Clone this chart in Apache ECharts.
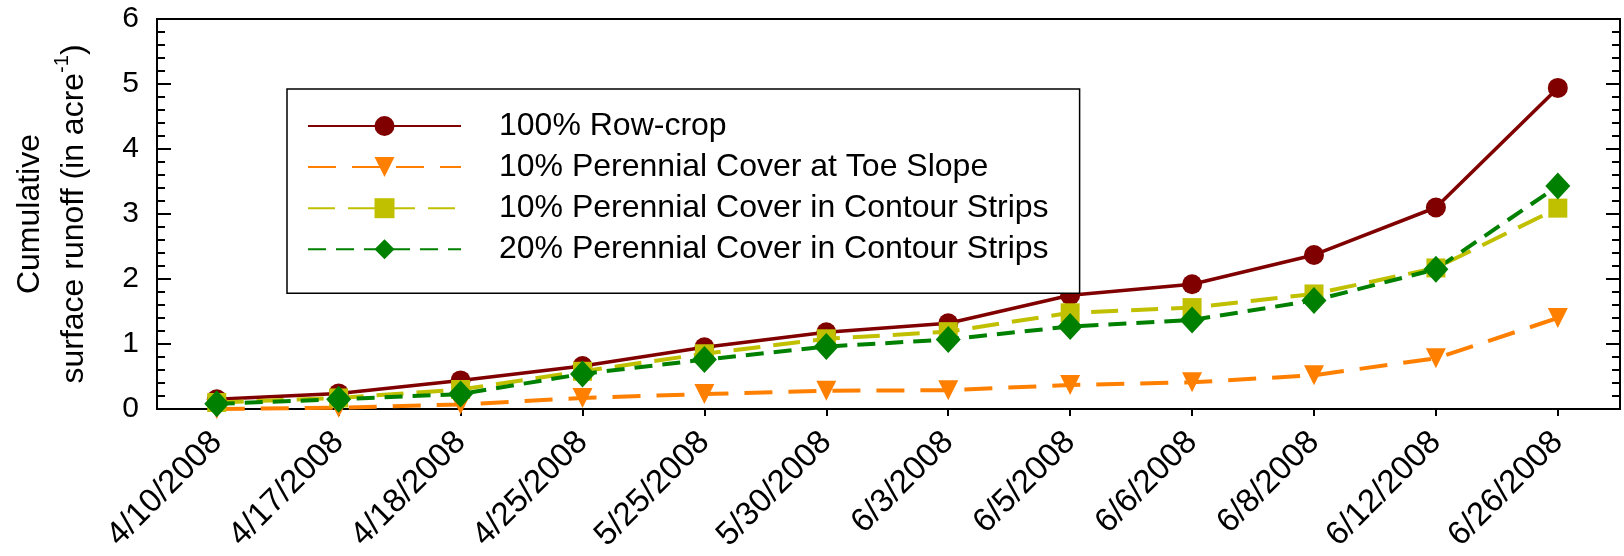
<!DOCTYPE html>
<html>
<head>
<meta charset="utf-8">
<script src="https://cdn.jsdelivr.net/npm/echarts@6/dist/echarts.min.js"></script>
<style>
  html, body { margin: 0; padding: 0; background: #fff; }
  #chart { width: 1624px; height: 556px; }
</style>
</head>
<body>
<div id="chart"></div>
<script>
// ---- data ----
const dates = ['4/10/2008','4/17/2008','4/18/2008','4/25/2008','5/25/2008','5/30/2008','6/3/2008','6/5/2008','6/6/2008','6/8/2008','6/12/2008','6/26/2008'];
const rowCrop   = [0.15, 0.24, 0.44, 0.66, 0.95, 1.18, 1.32, 1.75, 1.92, 2.37, 3.10, 4.94];
const toeSlope  = [0.00, 0.02, 0.07, 0.17, 0.23, 0.28, 0.29, 0.37, 0.41, 0.52, 0.78, 1.40];
const contour10 = [0.10, 0.17, 0.30, 0.58, 0.85, 1.08, 1.19, 1.48, 1.56, 1.77, 2.17, 3.09];
const contour20 = [0.08, 0.15, 0.23, 0.54, 0.76, 0.96, 1.07, 1.27, 1.37, 1.67, 2.15, 3.43];
const seriesNames = ['100% Row-crop', '10% Perennial Cover at Toe Slope', '10% Perennial Cover in Contour Strips', '20% Perennial Cover in Contour Strips'];
const yTicks = [0, 1, 2, 3, 4, 5, 6];
const yMinorPerMajor = 5;

const FONT = "'Liberation Sans', Arial, Helvetica, sans-serif";
const X_MIN = -0.49, X_MAX = 11.51;
const idx = dates.map((d, i) => i);
const pairs = vals => vals.map((v, i) => [i, v]);

// tick positions (major + minor) for the mirrored inside ticks on the left and right frame
const tickMarks = [];
yTicks.forEach((t, k) => {
  tickMarks.push([t, 1]);
  if (k < yTicks.length - 1) {
    const step = (yTicks[k + 1] - t) / yMinorPerMajor;
    for (let m = 1; m < yMinorPerMajor; m++) tickMarks.push([t + step * m, 0]);
  }
});

const chart = echarts.init(document.getElementById('chart'), null, { renderer: 'canvas' });

const axisLine = { show: true, onZero: false, lineStyle: { color: '#000', width: 2 } };

const option = {
  backgroundColor: '#fff',
  animation: false,
  grid: { left: 155, right: 4, top: 19, bottom: 147, containLabel: false,
          show: true, borderColor: '#000', borderWidth: 2, backgroundColor: 'transparent' },
  legend: {
    left: 287, top: 89, orient: 'vertical',
    backgroundColor: '#fff', borderColor: '#000', borderWidth: 1.5,
    padding: [21, 31, 28, 20],
    itemWidth: 153, itemHeight: 25, itemGap: 9.1,
    textStyle: { fontFamily: FONT, fontSize: 32, color: '#000', lineHeight: 32, padding: [0, 0, 0, 33] },
    data: seriesNames
  },
  xAxis: {
    type: 'value', min: X_MIN, max: X_MAX, position: 'bottom',
    axisLine: axisLine,
    splitLine: { show: false },
    axisTick: { show: true, customValues: idx, length: 7, lineStyle: { color: '#000', width: 2 } },
    axisLabel: {
      customValues: idx, rotate: 45, margin: 28,
      fontFamily: FONT, fontSize: 33, color: '#000',
      formatter: v => dates[Math.round(v)]
    }
  },
  yAxis: {
    type: 'value', min: yTicks[0], max: yTicks[yTicks.length - 1], interval: 1, position: 'left',
    axisLine: axisLine,
    splitLine: { show: false },
    axisTick: { show: false },
    minorTick: { show: false },
    axisLabel: { margin: 18, fontFamily: FONT, fontSize: 30, color: '#000' },
    name: '{a|Cumulative}\n{a|surface runoff (in acre}{s|-1}{a|)}',
    nameLocation: 'middle', nameRotate: 90, nameGap: 61,
    nameTextStyle: {
      fontFamily: FONT, fontSize: 32, color: '#000', lineHeight: 44,
      rich: {
        a: { fontFamily: FONT, fontSize: 32, color: '#000', lineHeight: 44 },
        s: { fontFamily: FONT, fontSize: 20, color: '#000', lineHeight: 44, verticalAlign: 'top' }
      }
    }
  },
  series: [{
    name: seriesNames[0], type: 'line', data: pairs(rowCrop), clip: false,
    symbol: 'circle', symbolSize: 20,
    itemStyle: { color: '#800000' },
    lineStyle: { color: '#800000', width: 3.5, type: 'solid' }
  }, {
    name: seriesNames[1], type: 'line', data: pairs(toeSlope), clip: false,
    symbol: 'path://M0,0L10,0L5,10Z', symbolSize: 20,
    itemStyle: { color: '#FF8000' },
    lineStyle: { color: '#FF8000', width: 4, type: [28, 16] }
  }, {
    name: seriesNames[2], type: 'line', data: pairs(contour10), clip: false,
    symbol: 'rect', symbolSize: 19,
    itemStyle: { color: '#C0C000' },
    lineStyle: { color: '#C0C000', width: 4, type: [27, 13] }
  }, {
    name: seriesNames[3], type: 'line', data: pairs(contour20), clip: false,
    symbol: 'diamond', symbolSize: [25, 27],
    itemStyle: { color: '#008000' },
    lineStyle: { color: '#008000', width: 4, type: [18, 10] }
  }]
};
chart.setOption(option);

// Mirrored inside ticks on the left and right frame, positioned through the chart's own scales.
const tickGraphics = [];
tickMarks.forEach(([v, major]) => {
  const len = major ? 14 : 8;
  const pL = chart.convertToPixel({ gridIndex: 0 }, [X_MIN, v]);
  const pR = chart.convertToPixel({ gridIndex: 0 }, [X_MAX, v]);
  if (!pL || !pR) return;
  tickGraphics.push({ type: 'line', z: 100, silent: true,
    shape: { x1: pL[0], y1: pL[1], x2: pL[0] + len, y2: pL[1] },
    style: { stroke: '#000', lineWidth: 2 } });
  tickGraphics.push({ type: 'line', z: 100, silent: true,
    shape: { x1: pR[0], y1: pR[1], x2: pR[0] - len, y2: pR[1] },
    style: { stroke: '#000', lineWidth: 2 } });
});
chart.setOption({ graphic: { elements: tickGraphics } });
</script>
</body>
</html>
